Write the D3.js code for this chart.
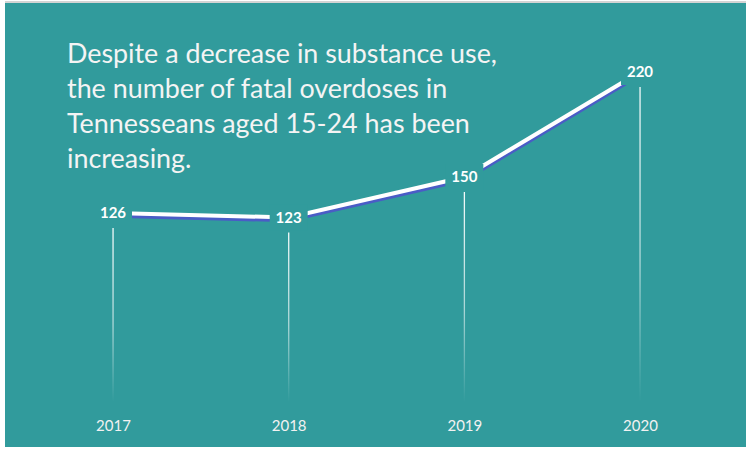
<!DOCTYPE html>
<html>
<head>
<meta charset="utf-8">
<script src="https://cdn.jsdelivr.net/npm/d3@7"></script>
<style>
  html, body { margin: 0; padding: 0; background: #ffffff; }
  svg { display: block; }
</style>
</head>
<body>
<svg id="chart" width="746" height="451"></svg>
<script>
// ---- data ----
const years = ["2017", "2018", "2019", "2020"];
const overdoses = [126, 123, 150, 220];
const titleLines = [
  "Despite a decrease in substance use,",
  "the number of fatal overdoses in",
  "Tennesseans aged 15-24 has been",
  "increasing."
];

const W = 746, H = 451;
const svg = d3.select("#chart");
const teal = "#319b9c";

// frame
svg.append("rect").attr("x", 0).attr("y", 0).attr("width", W).attr("height", H).attr("fill", "#ffffff");
svg.append("rect").attr("x", 5).attr("y", 1).attr("width", W - 5).attr("height", 2).attr("fill", "#d4d4d4");
svg.append("rect").attr("x", 5).attr("y", 3).attr("width", W - 5).attr("height", 444).attr("fill", teal);

// scales
const x = d3.scalePoint().domain(years).range([113, 640]);
const y = d3.scaleLinear().domain([0, 220]).range([402, 72]);

const data = years.map((yr, i) => ({ year: yr, value: overdoses[i] }));

// gradient for drop lines
const defs = svg.append("defs");
const grad = defs.append("linearGradient").attr("id", "dropGrad")
  .attr("x1", 0).attr("y1", 0).attr("x2", 0).attr("y2", 1);
grad.append("stop").attr("offset", "0%").attr("stop-color", "#ffffff").attr("stop-opacity", 0.95);
grad.append("stop").attr("offset", "55%").attr("stop-color", "#ffffff").attr("stop-opacity", 0.6);
grad.append("stop").attr("offset", "100%").attr("stop-color", "#ffffff").attr("stop-opacity", 0);

// drop lines
svg.append("g").selectAll("rect").data(data).join("rect")
  .attr("x", d => x(d.year) - 0.6)
  .attr("y", d => y(d.value) + 15)
  .attr("width", 1.3)
  .attr("height", d => y(0) - (y(d.value) + 15))
  .attr("fill", "url(#dropGrad)");

// line with blue shadow
const line = d3.line().x(d => x(d.year)).y(d => y(d.value));
svg.append("path").datum(data)
  .attr("d", line)
  .attr("transform", "translate(0,3)")
  .attr("fill", "none")
  .attr("stroke", "#4a5cc6")
  .attr("stroke-width", 3.5);
svg.append("path").datum(data)
  .attr("d", line)
  .attr("fill", "none")
  .attr("stroke", "#ffffff")
  .attr("stroke-width", 4);

// label backgrounds (gap in line around labels)
svg.append("g").selectAll("rect").data(data).join("rect")
  .attr("x", d => x(d.year) - 19)
  .attr("y", d => y(d.value) - 13)
  .attr("width", 38)
  .attr("height", 26)
  .attr("fill", teal);

// value labels
svg.append("g").selectAll("text").data(data).join("text")
  .attr("x", d => x(d.year))
  .attr("y", d => y(d.value) + 5)
  .attr("text-anchor", "middle")
  .attr("font-family", "Lato, 'Open Sans', sans-serif")
  .attr("font-weight", "bold")
  .attr("font-size", 15)
  .attr("fill", "#ffffff")
  .text(d => d.value);

// year axis labels
const xAxis = d3.axisBottom(x).tickSize(0).tickPadding(0);
const ax = svg.append("g").attr("transform", "translate(0,420)").call(xAxis);
ax.select(".domain").remove();
ax.selectAll("text")
  .attr("font-family", "Lato, 'Open Sans', sans-serif")
  .attr("font-size", 15)
  .attr("fill", "#f2f2f2")
  .attr("dy", "0.71em");

// title
const tg = svg.append("g");
const tt = tg.selectAll("text").data(titleLines).join("text")
  .attr("x", 67)
  .attr("y", (d, i) => 63 + i * 35)
  .attr("font-family", "Lato, 'Open Sans', sans-serif")
  .attr("font-size", 24)
  .attr("fill", "#f4f4f4")
  .text(d => d);
// fit first line to the reference width
const w0 = tt.nodes()[0].getComputedTextLength();
const fs = 24 * 430 / w0;
tt.attr("font-size", fs);
</script>
</body>
</html>
